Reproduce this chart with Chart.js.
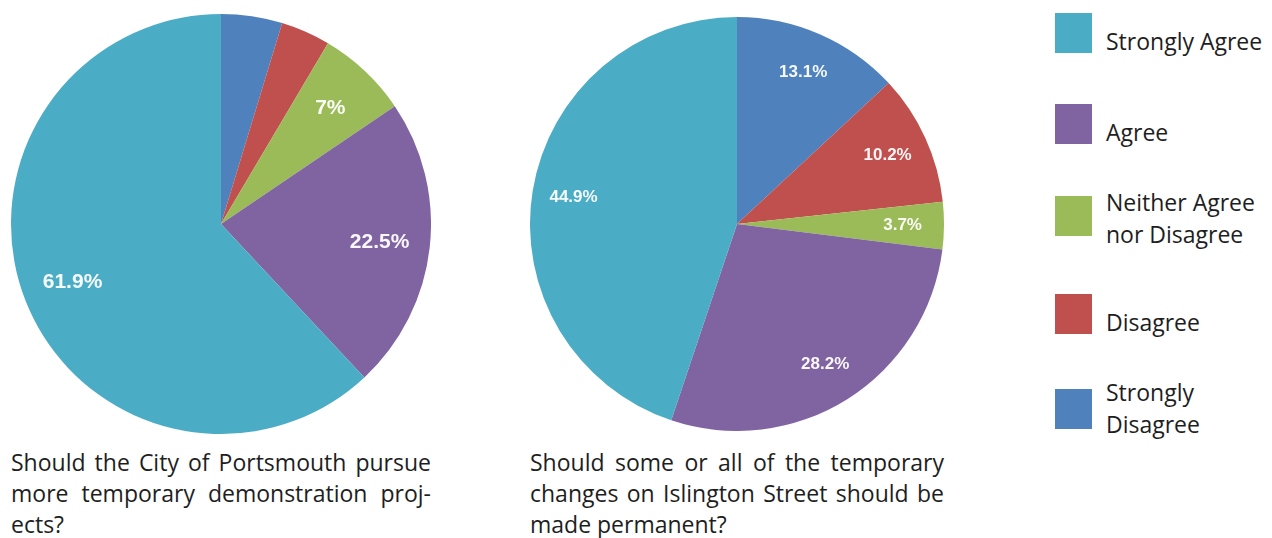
<!DOCTYPE html>
<html>
<head>
<meta charset="utf-8">
<script src="https://cdn.jsdelivr.net/npm/chart.js@4.4.1/dist/chart.umd.min.js"></script>
<style>
  html, body { margin: 0; padding: 0; background: #fff; }
  body { width: 1272px; height: 538px; position: relative; overflow: hidden;
         font-family: "Open Sans", sans-serif; color: #1e1e1e; }
  canvas { position: absolute; }
  .caption { position: absolute; font-size: 23px; line-height: 31px; }
  .caption div { text-align: justify; text-align-last: justify; white-space: nowrap; }
  .caption div.last { text-align-last: left; }
  .lg-box { position: absolute; left: 1055px; width: 37px; height: 40px; }
  .lg-text { position: absolute; left: 1106px; width: 164px; font-size: 23px; line-height: 32px; }
</style>
</head>
<body>
<canvas id="pie-projects" width="420" height="420" style="left:11px;top:14px;width:420px;height:420px"></canvas>
<canvas id="pie-islington" width="414" height="414" style="left:530px;top:17px;width:414px;height:414px"></canvas>

<div class="caption" style="left:11px;top:447px;width:420px">
  <div>Should the City of Portsmouth pursue</div>
  <div>more temporary demonstration proj-</div>
  <div class="last">ects?</div>
</div>
<div class="caption" style="left:530px;top:447px;width:414px">
  <div>Should some or all of the temporary</div>
  <div>changes on Islington Street should be</div>
  <div class="last">made permanent?</div>
</div>

<div id="legend"></div>

<script>
  var categories = ['Strongly Disagree', 'Disagree', 'Neither Agree nor Disagree', 'Agree', 'Strongly Agree'];
  var colors = ['#4f81bd', '#c0504d', '#9bbb59', '#8064a2', '#4bacc6'];
  var projectsValues = [4.7, 3.8, 7, 22.5, 61.9];
  var islingtonValues = [13.1, 10.2, 3.7, 28.2, 44.9];

  // legend: reversed order, box tops / text tops
  var legendBoxTops = [13, 104, 196, 294, 389];
  var legendTextTops = [25, 116, 186, 306, 376];

  var legendEl = document.getElementById('legend');
  categories.slice().reverse().forEach(function (name, i) {
    var c = colors[categories.length - 1 - i];
    var box = document.createElement('div');
    box.className = 'lg-box';
    box.style.top = legendBoxTops[i] + 'px';
    box.style.background = c;
    legendEl.appendChild(box);
    var t = document.createElement('div');
    t.className = 'lg-text';
    t.style.top = legendTextTops[i] + 'px';
    t.textContent = name;
    legendEl.appendChild(t);
  });

  var sliceLabels = {
    id: 'sliceLabels',
    afterDatasetsDraw: function (chart, args, opts) {
      var ctx = chart.ctx;
      var meta = chart.getDatasetMeta(0);
      var data = chart.data.datasets[0].data;
      ctx.save();
      ctx.fillStyle = 'rgba(255,255,255,0.95)';
      ctx.font = 'bold ' + opts.size + 'px "Liberation Sans", Arial, sans-serif';
      ctx.textAlign = 'center';
      ctx.textBaseline = 'middle';
      meta.data.forEach(function (arc, i) {
        if (data[i] < opts.hideBelow) return;
        var mid = (arc.startAngle + arc.endAngle) / 2;
        var r = arc.outerRadius * opts.radius;
        ctx.fillText(data[i] + '%', arc.x + Math.cos(mid) * r, arc.y + Math.sin(mid) * r);
      });
      ctx.restore();
    }
  };

  function makePie(id, values, labelOpts) {
    new Chart(document.getElementById(id), {
      type: 'pie',
      data: {
        labels: categories,
        datasets: [{
          data: values,
          backgroundColor: colors,
          borderWidth: 0
        }]
      },
      options: {
        responsive: false,
        animation: false,
        layout: { padding: 0 },
        plugins: {
          legend: { display: false },
          tooltip: { enabled: false },
          sliceLabels: labelOpts
        }
      },
      plugins: [sliceLabels]
    });
  }

  makePie('pie-projects', projectsValues, { size: 21, radius: 0.76, hideBelow: 5 });
  makePie('pie-islington', islingtonValues, { size: 17, radius: 0.8, hideBelow: 0 });
</script>
</body>
</html>
